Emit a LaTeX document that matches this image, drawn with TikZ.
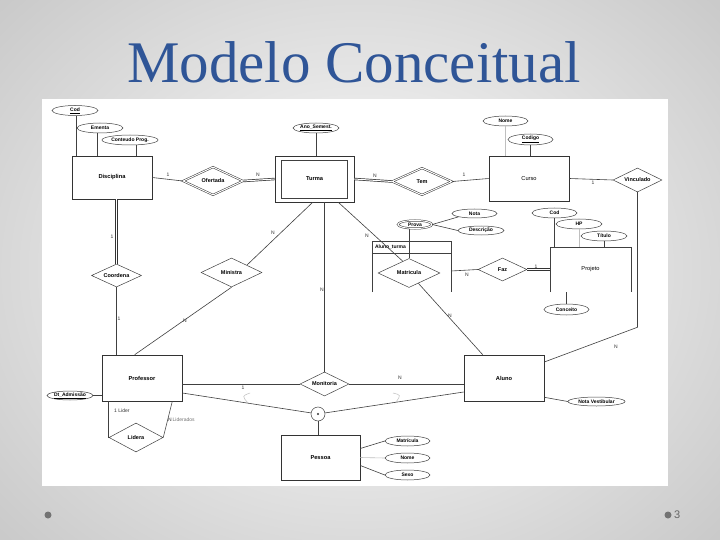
\documentclass[tikz,border=0pt]{standalone}
\usepackage{fontspec}
\setmainfont{Liberation Sans}
\newfontfamily\titlefont{Liberation Serif}
\usetikzlibrary{shapes.geometric,calc}
\definecolor{titleblue}{RGB}{47,85,151}
\begin{document}
\begin{tikzpicture}[x=1pt,y=-1pt,
  ent/.style={draw=black!80, line width=0.6pt, rectangle, inner sep=0pt, font=\fontsize{5.7}{6}\selectfont\bfseries},
  entl/.style={ent, font=\fontsize{5.7}{6}\selectfont},
  rel/.style={draw=black!75, line width=0.5pt, diamond, aspect=2, inner sep=0pt, font=\fontsize{5.5}{6}\selectfont\bfseries},
  attr/.style={draw=black!75, line width=0.5pt, ellipse, inner sep=0pt, font=\fontsize{5}{6}\selectfont\bfseries},
  ln/.style={draw=black!75, line width=0.6pt},
  dbl/.style={draw=black!80, line width=0.7pt, double, double distance=1pt},
  card/.style={font=\fontsize{5}{6}\selectfont, text=black!80, inner sep=0pt},
  faint/.style={draw=black!25, line width=0.6pt},
]
\useasboundingbox (0,0) rectangle (720,540);
% background
\begin{scope}
\clip (0,0) rectangle (720,540);
\shade[inner color=white, outer color=black!22] (-150,-150) rectangle (870,690);
\end{scope}
% title
\node[font=\titlefont\fontsize{59}{62}\selectfont, text=titleblue, anchor=base] (title) at (354,83) {Modelo Conceitual};
% diagram area
\fill[white] (42,99) rectangle (668,486);
% footer
\fill[black!55] (48,515) circle (3.5);
\fill[black!55] (668,515) circle (3.5);
\node[font=\fontsize{11}{12}\selectfont, text=black!60, anchor=west, inner sep=0pt] (pagenum) at (674,515) {3};

% entities
\node[ent, minimum width=80pt, minimum height=43pt] (disc) at (112,177.5) {Disciplina};
\node[ent, minimum width=79pt, minimum height=46pt] (turma) at (314.5,179) {Turma};
\draw[ln] ($(turma.north west)+(7,5)$) rectangle ($(turma.south east)+(-7,-4)$);
\node[entl, minimum width=80pt, minimum height=45pt] (curso) at (529,178.5) {Curso};
\node[ent, minimum width=80pt, minimum height=46pt] (prof) at (142,378) {Professor};
\node[ent, minimum width=80pt, minimum height=46pt] (aluno) at (504,378) {Aluno};
\node[ent, minimum width=79pt, minimum height=45pt] (pessoa) at (320.5,457.5) {Pessoa};
\node[font=\fontsize{5.7}{6}\selectfont, minimum width=81pt, minimum height=45pt, inner sep=0pt] (projeto) at (590.5,269.5) {Projeto};
\draw[ln] (projeto.south west) -- (projeto.north west) -- (projeto.north east) -- (projeto.south east);
% aggregation Aluno_turma
\node[minimum width=79pt, minimum height=51pt, inner sep=0pt] (alt) at (411.5,266.5) {};
\draw[ln] (alt.south west) -- (alt.north west) -- (alt.north east) -- (alt.south east);
\draw[ln] ($(alt.north west)+(0,12)$) -- ($(alt.north east)+(0,12)$);
\node[font=\fontsize{5}{6}\selectfont\bfseries, anchor=west, inner sep=0pt] (altlbl) at ($(alt.north west)+(3,6)$) {Aluno\_turma};

% relationships
\node[rel, dbl, line width=0.5pt, minimum width=60pt, minimum height=28pt] (ofertada) at (213,181) {Ofertada};
\node[rel, dbl, line width=0.5pt, minimum width=60pt, minimum height=27pt] (tem) at (422,181.5) {Tem};
\node[rel, minimum width=49pt, minimum height=24pt] (vinculado) at (637.5,180) {Vinculado};
\node[rel, minimum width=50pt, minimum height=23pt] (coordena) at (116.5,275.5) {Coordena};
\node[rel, minimum width=61pt, minimum height=29pt] (ministra) at (231.5,272.5) {Ministra};
\node[rel, minimum width=62pt, minimum height=29pt] (matricula) at (409,273) {Matricula};
\node[rel, minimum width=49pt, minimum height=23pt] (faz) at (502.5,269.5) {Faz};
\node[rel, minimum width=49pt, minimum height=24pt] (monitoria) at (324.5,384) {Monitoria};
\node[rel, minimum width=54pt, minimum height=29pt] (lidera) at (136,437.5) {Lidera};

% attributes
\node[attr, minimum width=46pt, minimum height=10pt] (cod1) at (75,110.5) {\underline{Cod}};
\node[attr, minimum width=46pt, minimum height=10pt] (ementa) at (100,128) {Ementa};
\node[attr, minimum width=56pt, minimum height=10pt] (conteudo) at (130,140) {Conteudo Prog.};
\node[attr, minimum width=46pt, minimum height=10pt] (anosem) at (316,128) {\underline{Ano\_Semest.}};
\node[attr, minimum width=45pt, minimum height=10pt] (nome1) at (505.5,121) {Nome};
\node[attr, minimum width=45pt, minimum height=11pt] (codigo) at (530.5,139.5) {\underline{Codigo}};
\node[attr, dbl, line width=0.5pt, minimum width=34pt, minimum height=8pt] (prova) at (415,224.5) {Prova};
\node[attr, minimum width=45pt, minimum height=9pt] (nota) at (474.5,213.5) {Nota};
\node[attr, minimum width=46pt, minimum height=9pt] (descricao) at (481,230.5) {Descrição};
\node[attr, minimum width=45pt, minimum height=10pt] (cod2) at (554.5,213) {Cod};
\node[attr, minimum width=46pt, minimum height=10pt] (hp) at (579,224) {HP};
\node[attr, minimum width=46pt, minimum height=10pt] (titulo) at (604,236) {Título};
\node[attr, minimum width=45pt, minimum height=11pt] (conceito) at (566.5,309.5) {Conceito};
\node[attr, minimum width=57pt, minimum height=9pt] (notavest) at (596.5,401.5) {Nota Vestibular};
\node[attr, minimum width=46pt, minimum height=9pt] (dtadm) at (70,395.5) {\underline{Dt\_Admissão}};
\node[attr, minimum width=45pt, minimum height=10pt] (matr) at (407.5,441) {Matrícula};
\node[attr, minimum width=45pt, minimum height=10pt] (nome2) at (407.5,458) {Nome};
\node[attr, minimum width=45pt, minimum height=10pt] (sexo) at (407.5,475) {Sexo};

% specialization circle
\node[circle, draw=black!75, line width=0.5pt, minimum size=14pt, inner sep=0pt] (spec) at (318,414) {};
\fill[black!80] (spec.center) circle (1.1);

% attribute connectors
\draw[ln] ([xshift=1pt]cod1.south) -- ([xshift=1pt]cod1.south |- disc.north);
\draw[ln] ([xshift=-3pt]ementa.south) -- ([xshift=-3pt]ementa.south |- disc.north);
\draw[ln] ([xshift=6pt]conteudo.south) -- ([xshift=6pt]conteudo.south |- disc.north);
\draw[ln] (anosem.south) -- (anosem.south |- turma.north);
\draw[faint] (nome1.south) -- (nome1.south |- curso.north);
\draw[ln] (codigo.south) -- (codigo.south |- curso.north);
\draw[ln] (matricula.north |- prova.south) -- (matricula.north);
\draw[ln] (prova.east) -- (nota.south west);
\draw[ln] (prova.east) -- (descricao.west);
\draw[ln] (cod2.south) -- (cod2.south |- projeto.north);
\draw[faint] (hp.south) -- (hp.south |- projeto.north);
\draw[ln] (titulo.south) -- (titulo.south |- projeto.north);
\draw[ln] (conceito.north) -- (conceito.north |- projeto.south);
\draw[ln] ($(aluno.south east)+(0,-4)$) -- (notavest.west);
\draw[ln] (dtadm.east) -- (dtadm.east -| prof.west);
\draw[ln] ($(pessoa.east)+(0,-9)$) -- (matr.west);
\draw[faint] (pessoa.east) -- (nome2.west);
\draw[ln] ($(pessoa.east)+(0,8)$) -- (sexo.west);

% relationship connectors
\draw[ln] (disc.east) -- (ofertada.west);
\draw[dbl] (ofertada.east) -- (turma.west);
\draw[dbl] (turma.east) -- (tem.west);
\draw[ln] (tem.east) -- (curso.west);
\draw[ln] (curso.east) -- (vinculado.west);
\coordinate (vbend) at ($(vinculado.south)+(0,135)$);
\draw[ln] (vinculado.south) -- (vbend) -- ($(aluno.east)+(0,-16)$);
\draw[dbl] (coordena.north |- disc.south) -- (coordena.north);
\draw[ln] (coordena.south) -- (coordena.south |- prof.north);
\draw[ln] ($(turma.south west)+(38,0)$) -- ($(ministra.north)!0.5!(ministra.east)$);
\draw[ln] (ministra.south) -- ($(prof.north west)+(33,0)$);
\draw[ln] (monitoria.north |- turma.south) -- (monitoria.north);
\draw[ln] ($(turma.south east)+(-16,0)$) -- ($(matricula.north)!0.2!(matricula.west)$);
\draw[ln] ($(matricula.south)!0.3!(matricula.east)$) -- ($(aluno.north west)+(19,0)$);
\draw[ln] ($(alt.east)+(0,4.5)$) -- (faz.west);
\draw[dbl] (faz.east) -- (faz.east -| projeto.west);
\draw[ln] ($(prof.east)+(0,6)$) -- (monitoria.west);
\draw[ln] (monitoria.east) -- (monitoria.east -| aluno.west);
\draw[ln] ($(prof.east)+(0,15)$) -- (spec);
\draw[ln] ($(aluno.west)+(0,14)$) -- (spec);
\draw[ln] (spec.south) -- (spec.south |- pessoa.north);
\draw[ln] (lidera.west |- prof.south) -- (lidera.west);
\draw[ln] (lidera.east) -- ($(prof.south east)+(-10,0)$);
% subset marks
\draw[faint, line width=0.5pt] (393,393) .. controls (401,395) .. (396,402);
\draw[faint, line width=0.5pt] (250,393) .. controls (242,396) .. (248,403);

% cardinalities
\node[card] (c1) at (168,174.5) {1};
\node[card] (c2) at (258,175) {N};
\node[card] (c3) at (375,176) {N};
\node[card] (c4) at (464,174.5) {1};
\node[card] (c5) at (593,183) {1};
\node[card] (c6) at (616,347) {N};
\node[card] (c7) at (112,237) {1};
\node[card] (c8) at (119,319) {1};
\node[card] (c9) at (273,233) {N};
\node[card] (c10) at (185,321) {N};
\node[card] (c11) at (322,290) {N};
\node[card] (c12) at (367,236) {N};
\node[card] (c13) at (450,316) {N};
\node[card] (c14) at (467,275) {N};
\node[card] (c15) at (536,266.5) {1};
\node[card] (c16) at (243,388) {1};
\node[card] (c17) at (400,378) {N};
\node[card, anchor=west] (c18) at (114,411) {1 Lider};
\node[card, anchor=west] (c19) at (168,420) {N\,\textcolor{black!55}{Liderados}};
\end{tikzpicture}
\end{document}
